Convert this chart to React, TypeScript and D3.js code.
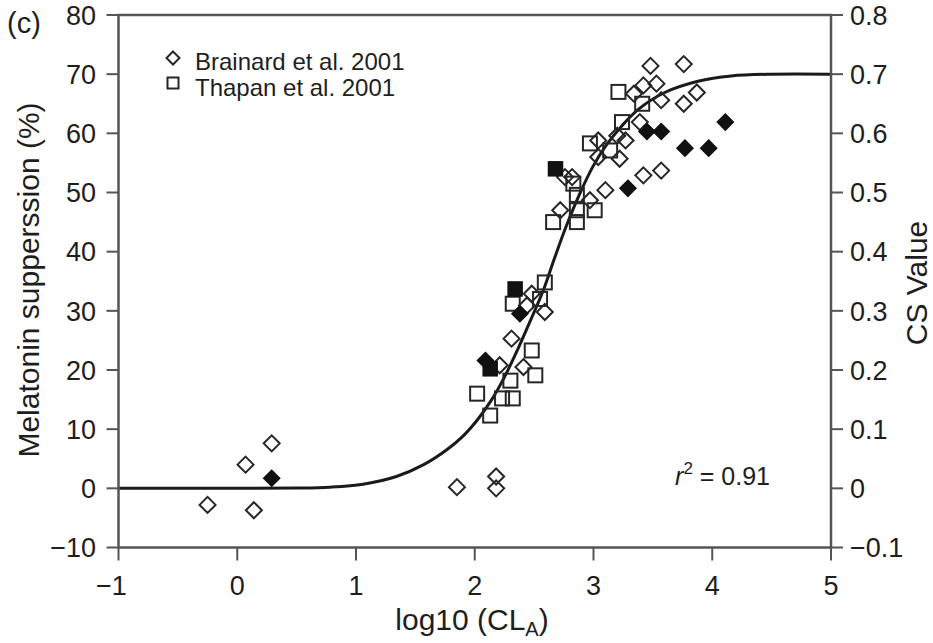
import React from "react";
import * as d3 from "d3";

// log10(CLA), melatonin suppression (%)
const brainardOpen: [number, number][] = [
  [-0.25, -2.8], [0.07, 4.0], [0.14, -3.7], [0.29, 7.6],
  [1.85, 0.2], [2.18, 0.0], [2.18, 2.0],
  [2.21, 20.8], [2.31, 25.3], [2.41, 20.5], [2.44, 30.9], [2.48, 32.9], [2.59, 29.8],
  [2.72, 47.0], [2.76, 52.6], [2.82, 52.6], [2.97, 48.7], [3.10, 50.4],
  [3.04, 56.0], [3.04, 58.8], [3.22, 55.7], [3.20, 59.6], [3.27, 58.8],
  [3.42, 52.9], [3.57, 53.7], [3.39, 61.9], [3.34, 66.7], [3.42, 68.1], [3.53, 68.4],
  [3.57, 65.6], [3.48, 71.4], [3.76, 71.7], [3.87, 66.9], [3.76, 65.0],
];
const brainardFilled: [number, number][] = [
  [0.29, 1.7], [2.09, 21.6], [2.38, 29.5], [3.29, 50.7], [3.45, 60.3],
  [3.57, 60.3], [3.77, 57.5], [3.97, 57.5], [4.11, 61.9],
];
const thapanOpen: [number, number][] = [
  [2.02, 16.0], [2.13, 12.3], [2.23, 15.2], [2.32, 15.2], [2.30, 18.2], [2.51, 19.1],
  [2.48, 23.3], [2.32, 31.2], [2.55, 32.0], [2.59, 34.8],
  [2.66, 45.0], [2.86, 45.0], [2.86, 47.0], [3.01, 47.0], [2.83, 51.5], [2.86, 49.6],
  [2.97, 58.3], [3.14, 57.1], [3.24, 61.9], [3.21, 67.0], [3.41, 65.0],
];
const thapanFilled: [number, number][] = [
  [2.34, 33.7], [2.13, 20.2], [2.68, 54.0],
];
const fitCurve: [number, number][] = [
  [-1, 0], [0, 0], [0.5, 0.05], [0.78, 0.2], [1.06, 0.7], [1.34, 2.0], [1.57, 4.0],
  [1.77, 6.6], [1.91, 9.0], [2.02, 11.5], [2.14, 14.9], [2.25, 18.8], [2.36, 23.4],
  [2.47, 28.4], [2.58, 33.6], [2.67, 38.8], [2.77, 44.3], [2.88, 49.6], [2.99, 54.2],
  [3.1, 57.8], [3.24, 61.3], [3.38, 64.1], [3.6, 66.9], [3.88, 68.8], [4.16, 69.7],
  [4.5, 70], [5, 70],
];
const xTicks = [-1, 0, 1, 2, 3, 4, 5];
const yTicks = [-10, 0, 10, 20, 30, 40, 50, 60, 70, 80];
const yRTicks = [-0.1, 0, 0.1, 0.2, 0.3, 0.4, 0.5, 0.6, 0.7, 0.8];
const legendLabels = ["Brainard et al. 2001", "Thapan et al. 2001"];
const rSquared = "0.91";

const FONT = "'Liberation Sans', Arial, Helvetica, sans-serif";
const L = 118.5, R = 831, T = 15, B = 547.5;

export default function App() {
  const x = d3.scaleLinear().domain([-1, 5]).range([L, R]);
  const y = d3.scaleLinear().domain([-10, 80]).range([B, T]);
  const yR = d3.scaleLinear().domain([-0.1, 0.8]).range([B, T]);
  const line = d3.line<[number, number]>()
    .x((d) => x(d[0]))
    .y((d) => y(d[1]))
    .curve(d3.curveCatmullRom.alpha(0.5));

  const dr = 8;
  const sq = 14;
  const diamond = (cx: number, cy: number, r: number) =>
    `M${cx},${cy - r}L${cx + r},${cy}L${cx},${cy + r}L${cx - r},${cy}Z`;
  const axisColor = "#555";
  const mark = "#262626";
  const txt = "#1e1e1e";
  const tickFs = 27;

  return (
    <svg width={933} height={643} style={{ position: "absolute", left: 0, top: 0, background: "#fff" }} fontFamily={FONT}>
      <rect x={0} y={0} width={933} height={643} fill="#fff" />
      {/* fit curve */}
      <path d={line(fitCurve) || ""} fill="none" stroke="#1a1a1a" strokeWidth={3} />
      {/* markers */}
      {thapanOpen.map((d, i) => (
        <rect key={"to" + i} x={x(d[0]) - sq / 2} y={y(d[1]) - sq / 2} width={sq} height={sq}
          fill="none" stroke={mark} strokeWidth={2} />
      ))}
      {brainardOpen.map((d, i) => (
        <path key={"bo" + i} d={diamond(x(d[0]), y(d[1]), dr)} fill="none" stroke={mark} strokeWidth={2} />
      ))}
      {thapanFilled.map((d, i) => (
        <rect key={"tf" + i} x={x(d[0]) - sq / 2} y={y(d[1]) - sq / 2} width={sq} height={sq}
          fill="#111" stroke="#111" strokeWidth={1.5} />
      ))}
      {brainardFilled.map((d, i) => (
        <path key={"bf" + i} d={diamond(x(d[0]), y(d[1]), dr)} fill="#111" stroke="#111" strokeWidth={1.5} />
      ))}
      {/* frame */}
      <rect x={L} y={T} width={R - L} height={B - T} fill="none" stroke={axisColor} strokeWidth={2.5} />
      {/* left ticks */}
      {yTicks.map((t) => (
        <g key={"yl" + t}>
          <line x1={L - 12} x2={L} y1={y(t)} y2={y(t)} stroke={axisColor} strokeWidth={2} />
          <text x={96} y={y(t)} dy="0.36em" textAnchor="end" fontSize={tickFs} fill={txt}>
            {t < 0 ? "\u2212" + Math.abs(t) : t}
          </text>
        </g>
      ))}
      {/* right ticks */}
      {yRTicks.map((t) => (
        <g key={"yr" + t}>
          <line x1={R} x2={R + 12} y1={yR(t)} y2={yR(t)} stroke={axisColor} strokeWidth={2} />
          <text x={850} y={yR(t)} dy="0.36em" textAnchor="start" fontSize={tickFs} fill={txt}>
            {t < 0 ? "\u2212" + Math.abs(t).toFixed(1) : t === 0 ? "0" : t.toFixed(1)}
          </text>
        </g>
      ))}
      {/* bottom ticks */}
      {xTicks.map((t) => (
        <g key={"x" + t}>
          <line x1={x(t)} x2={x(t)} y1={B} y2={B + 13} stroke={axisColor} strokeWidth={2} />
          <text x={x(t) - (t < 0 ? 7 : 0)} y={595} textAnchor="middle" fontSize={tickFs} fill={txt}>
            {t < 0 ? "\u2212" + Math.abs(t) : t}
          </text>
        </g>
      ))}
      {/* axis titles */}
      <text x={472} y={630} textAnchor="middle" fontSize={30} fill={txt}>
        log10 (CL<tspan fontSize={20} dy={6}>A</tspan><tspan dy={-6}>)</tspan>
      </text>
      <text transform="translate(28,280) rotate(-90)" textAnchor="middle" dy="0.36em" fontSize={30} fill={txt}>
        Melatonin supperssion (%)
      </text>
      <text transform="translate(916,283) rotate(-90)" textAnchor="middle" dy="0.36em" fontSize={30} fill={txt}>
        CS Value
      </text>
      {/* panel label */}
      <text x={7} y={33} fontSize={29} fill={txt}>(c)</text>
      {/* legend */}
      <path d={diamond(173, 58, 6.5)} fill="none" stroke={mark} strokeWidth={2} />
      <text x={195} y={70} fontSize={24} fill={txt}>{legendLabels[0]}</text>
      <rect x={167.5} y={77.5} width={11} height={11} fill="none" stroke={mark} strokeWidth={2} />
      <text x={195} y={96} fontSize={24} fill={txt}>{legendLabels[1]}</text>
      {/* r squared */}
      <text x={770} y={485} textAnchor="end" fontSize={25} fill={txt}>
        <tspan fontStyle="italic">r</tspan>
        <tspan fontSize={17} dy={-11}>2</tspan>
        <tspan dy={11}>{" = " + rSquared}</tspan>
      </text>
    </svg>
  );
}
